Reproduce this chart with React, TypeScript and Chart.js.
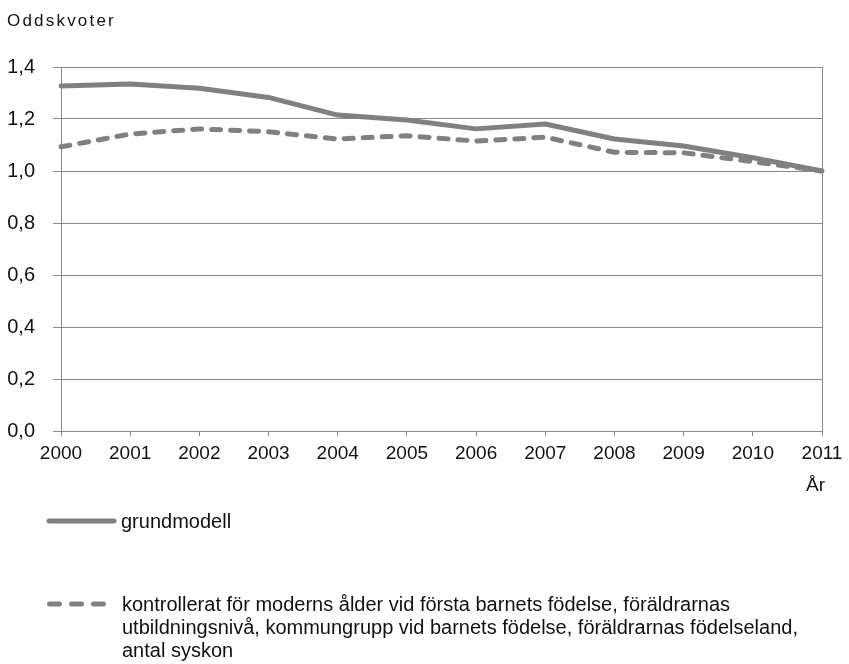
import React, { useEffect, useRef } from "react";
import { Chart, registerables } from "chart.js";

Chart.register(...registerables);

const years = ["2000", "2001", "2002", "2003", "2004", "2005", "2006", "2007", "2008", "2009", "2010", "2011"];
const grundmodell = [1.327, 1.335, 1.318, 1.283, 1.215, 1.196, 1.162, 1.181, 1.123, 1.096, 1.051, 1.0];
const kontrollerat = [1.093, 1.142, 1.162, 1.151, 1.123, 1.136, 1.115, 1.13, 1.072, 1.07, 1.036, 1.0];
const seriesNames = ["grundmodell", "kontrollerat för moderns ålder vid första barnets födelse, föräldrarnas"];
const legendExtraLines = [
  "utbildningsnivå, kommungrupp vid barnets födelse, föräldrarnas födelseland,",
  "antal syskon",
];
const yTitle = "Oddskvoter";
const xTitle = "År";

const LINE = "#808080";
const GRID = "#888888";
const TEXT = "#111111";
const FONT = "'Liberation Sans', Arial, sans-serif";

const decorPlugin = {
  id: "decor",
  afterDraw(chart: any) {
    const ctx = chart.ctx as CanvasRenderingContext2D;
    const a = chart.chartArea;
    ctx.save();
    // right border
    ctx.strokeStyle = GRID;
    ctx.lineWidth = 1;
    ctx.beginPath();
    ctx.moveTo(Math.round(a.right) + 0.5, a.top);
    ctx.lineTo(Math.round(a.right) + 0.5, a.bottom);
    ctx.stroke();

    ctx.fillStyle = TEXT;
    ctx.textBaseline = "middle";
    ctx.textAlign = "left";
    // title
    ctx.font = `17px ${FONT}`;
    (ctx as any).letterSpacing = "2.2px";
    ctx.fillText(yTitle, 7, 21);
    (ctx as any).letterSpacing = "0px";
    // År
    ctx.font = `19px ${FONT}`;
    ctx.fillText(xTitle, 806, 486);

    // legend solid
    ctx.strokeStyle = LINE;
    ctx.lineWidth = 5;
    ctx.lineCap = "round";
    ctx.beginPath();
    ctx.moveTo(49, 521);
    ctx.lineTo(114, 521);
    ctx.stroke();
    // legend dashed
    ctx.setLineDash([10, 12]);
    ctx.beginPath();
    ctx.moveTo(49.5, 604);
    ctx.lineTo(106, 604);
    ctx.stroke();
    ctx.setLineDash([]);

    ctx.font = `20px ${FONT}`;
    ctx.fillText(seriesNames[0], 121, 522);
    ctx.fillText(seriesNames[1], 122, 605);
    legendExtraLines.forEach((t, i) => ctx.fillText(t, 122, 628 + i * 23));
    ctx.restore();
  },
};

export default function App() {
  const ref = useRef<HTMLCanvasElement | null>(null);
  useEffect(() => {
    document.body.style.margin = "0";
    const chart = new Chart(ref.current as HTMLCanvasElement, {
      type: "line",
      data: {
        labels: years,
        datasets: [
          {
            label: seriesNames[0],
            data: grundmodell,
            borderColor: LINE,
            borderWidth: 5,
            pointRadius: 0,
            tension: 0,
            borderCapStyle: "round",
            borderJoinStyle: "round",
          },
          {
            label: seriesNames[1],
            data: kontrollerat,
            borderColor: LINE,
            borderWidth: 5,
            pointRadius: 0,
            tension: 0,
            borderDash: [9, 10],
            borderCapStyle: "round",
            borderJoinStyle: "round",
          },
        ],
      },
      options: {
        animation: false,
        responsive: false,
        maintainAspectRatio: false,
        layout: { padding: { left: 0, right: 27, top: 67, bottom: 0 } },
        plugins: { legend: { display: false }, tooltip: { enabled: false }, title: { display: false } },
        scales: {
          x: {
            offset: false,
            grid: { drawOnChartArea: false, drawTicks: true, tickLength: 5, color: GRID },
            border: { color: GRID },
            ticks: {
              color: TEXT,
              padding: 6,
              maxRotation: 0,
              autoSkip: false,
              font: { family: FONT, size: 19 },
            },
            afterFit: (s: any) => {
              s.height = 233;
            },
          },
          y: {
            min: 0,
            max: 1.4,
            grid: { color: GRID, tickLength: 8, drawTicks: true },
            border: { color: GRID },
            ticks: {
              stepSize: 0.2,
              color: TEXT,
              padding: 18,
              font: { family: FONT, size: 20 },
              callback: (v: any) => Number(v).toFixed(1).replace(".", ","),
            },
            afterFit: (s: any) => {
              s.width = 61;
            },
          },
        },
      },
      plugins: [decorPlugin],
    });
    return () => chart.destroy();
  }, []);
  return (
    <div style={{ position: "absolute", left: 0, top: 0, width: 849, height: 664, background: "#fff" }}>
      <canvas ref={ref} width={849} height={664} style={{ width: 849, height: 664 }} />
    </div>
  );
}
